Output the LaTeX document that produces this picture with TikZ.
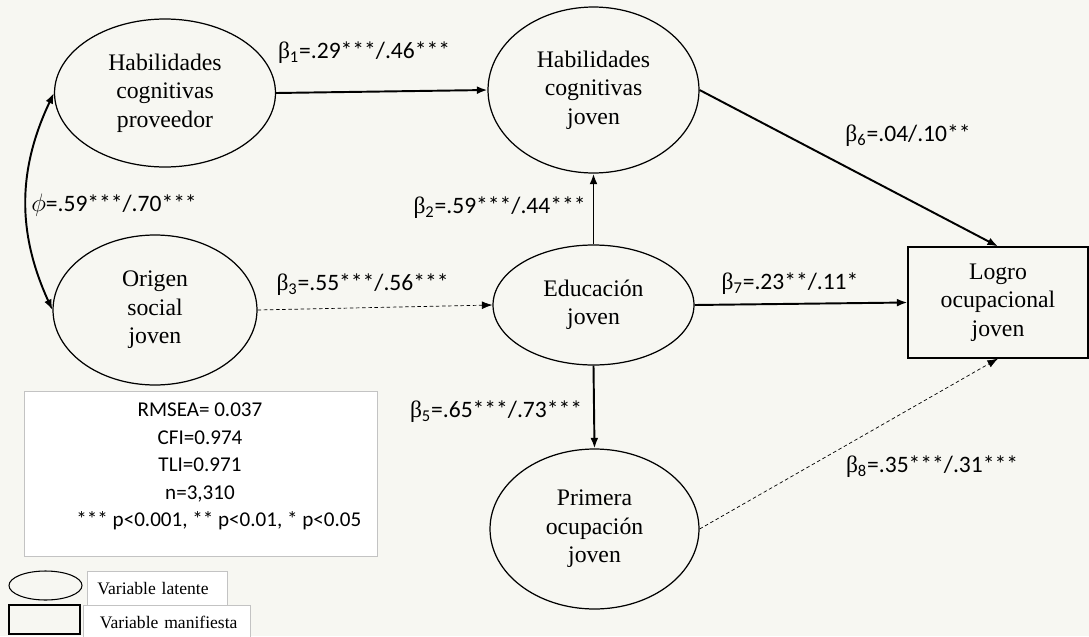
\documentclass[tikz,border=0pt]{standalone}
\usepackage{fontspec}
\setmainfont{Liberation Serif}
\newfontfamily\coeffont{Carlito}
\usetikzlibrary{arrows.meta,shapes.geometric}
\definecolor{paper}{RGB}{247,247,242}
\definecolor{boxline}{RGB}{195,195,195}
\newcommand\bcoef[2]{{\rmfamily β}\textsubscript{#1}=#2}

\begin{document}
\begin{tikzpicture}[x=0.02cm,y=-0.02cm,
    latent/.style={draw,ellipse,line width=0.7pt,align=center,inner sep=0pt,font=\fontsize{13.5}{16.2}\selectfont},
    manifest/.style={draw,rectangle,line width=0.7pt,align=center,inner sep=0pt,font=\fontsize{13.5}{16.2}\selectfont},
    reg/.style={line width=1.1pt,-{Latex[length=6pt,width=4.5pt]}},
    weak/.style={line width=0.4pt,dash pattern=on 2pt off 1.5pt,-{Latex[length=6pt,width=4.5pt]}},
    coef/.style={inner sep=0pt,font=\coeffont\fontsize{13.4}{16}\selectfont},
    legtxt/.style={draw=boxline,fill=white,anchor=north west,inner sep=0pt,font=\fontsize{10}{12}\selectfont}]
  \useasboundingbox (0,0) rectangle (1089,636);
  \fill[paper] (0,0) rectangle (1089,636);

  \node[latent,minimum width=4.42cm,minimum height=2.96cm] (hcp) at (165,93) {Habilidades\\cognitivas\\proveedor};
  \node[latent,minimum width=4.08cm,minimum height=3cm] (osj) at (155,310) {Origen\\social\\joven};
  \node[latent,minimum width=4.22cm,minimum height=3.32cm] (hcj) at (593.5,90) {Habilidades\\cognitivas\\joven};
  \node[latent,minimum width=4.02cm,minimum height=2.4cm] (edj) at (593.5,305) {Educación\\joven};
  \node[latent,minimum width=4.18cm,minimum height=3.2cm] (poj) at (594.5,529) {Primera\\ocupación\\joven};
  \node[manifest,minimum width=3.6cm,minimum height=2.22cm] (loj) at (998,302.5) {Logro\\ocupacional\\joven};

  \draw[reg] (hcp.east) -- (hcj.west);
  \draw[line width=1.1pt,{Latex[length=6pt,width=4.5pt]}-{Latex[length=6pt,width=4.5pt]}] (hcp.west) to[bend right=25] (osj.west);
  \draw[weak] (osj.east) -- (edj.west);
  \draw[reg] (edj.north) -- (hcj.south);
  \draw[reg] (edj.south) -- (poj.north);
  \draw[reg] (hcj.east) -- (loj.north);
  \draw[reg] (edj.east) -- (loj.west);
  \draw[weak] (poj.east) -- (loj.south);

  \node[coef] (b1) at (364,53) {\bcoef{1}{.29***/.46***}};
  \node[coef] (phi) at (114,205) {$\phi$=.59***/.70***};
  \node[coef] (b2) at (499.5,208) {\bcoef{2}{.59***/.44***}};
  \node[coef] (b3) at (362.5,285) {\bcoef{3}{.55***/.56***}};
  \node[coef] (b5) at (496,412) {\bcoef{5}{.65***/.73***}};
  \node[coef] (b6) at (908,136) {\bcoef{6}{.04/.10**}};
  \node[coef] (b7) at (790,284) {\bcoef{7}{.23**/.11*}};
  \node[coef] (b8) at (932,467) {\bcoef{8}{.35***/.31***}};

  \node[draw=boxline,fill=white,minimum width=7.06cm,minimum height=3.3cm] (fitbox) at (200.5,473.5) {};
  \node[align=center,inner sep=0pt,font=\coeffont\fontsize{12}{15.7}\selectfont] (fittxt) at (200,466.5)
    {RMSEA= 0.037\\CFI=0.974\\TLI=0.971\\n=3,310\\\hspace*{21.5pt}*** p<0.001, ** p<0.01, * p<0.05};

  \node[draw,ellipse,line width=0.6pt,minimum width=1.46cm,minimum height=0.58cm,inner sep=0pt] (leglat) at (45.5,585.5) {};
  \node[legtxt,minimum width=2.8cm,minimum height=0.68cm,text width=2.4cm] (leglattxt) at (87,571) {Variable latente};
  \node[legtxt,minimum width=3.34cm,minimum height=0.7cm,text width=3.1cm] (legmantxt) at (83,605) {\hspace*{6pt}Variable manifiesta};
  \node[draw,line width=0.6pt,minimum width=1.42cm,minimum height=0.58cm,inner sep=0pt] (legman) at (44.5,619.5) {};
\end{tikzpicture}
\end{document}
